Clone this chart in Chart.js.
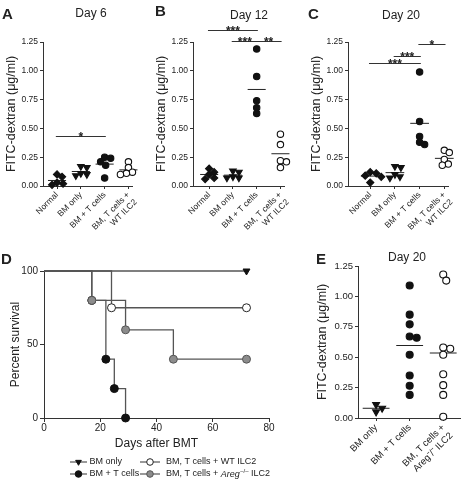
<!DOCTYPE html>
<html>
<head>
<meta charset="utf-8">
<script src="https://cdn.jsdelivr.net/npm/chart.js@4.4.0/dist/chart.umd.min.js"></script>
<style>
  body { margin: 0; background: #fff; }
  #fig { position: relative; width: 472px; height: 480px; overflow: hidden;
         font-family: "Liberation Sans", Arial, Helvetica, sans-serif; color: #222; }
  #fig canvas { position: absolute; }
  .lbl { position: absolute; font-weight: bold; font-size: 15px; line-height: 15px; }
  .ttl { position: absolute; font-size: 12px; line-height: 12px; white-space: nowrap; transform: translateX(-50%); }
</style>
</head>
<body>
<div id="fig">
  <canvas id="cA" width="150" height="240" style="left:0;top:0"></canvas>
  <canvas id="cB" width="155" height="240" style="left:150px;top:0"></canvas>
  <canvas id="cC" width="167" height="240" style="left:305px;top:0"></canvas>
  <canvas id="cD" width="315" height="240" style="left:0;top:240px"></canvas>
  <canvas id="cE" width="157" height="240" style="left:315px;top:240px"></canvas>

  <div class="lbl" style="left:2px;top:6px">A</div>
  <div class="lbl" style="left:155px;top:3px">B</div>
  <div class="lbl" style="left:308px;top:6px">C</div>
  <div class="lbl" style="left:1px;top:251px">D</div>
  <div class="lbl" style="left:316px;top:251px">E</div>

  <div class="ttl" style="left:91px;top:7px">Day 6</div>
  <div class="ttl" style="left:249px;top:9px">Day 12</div>
  <div class="ttl" style="left:401px;top:9px">Day 20</div>
  <div class="ttl" style="left:407px;top:251px">Day 20</div>
</div>

<script>
// ---- data ----
const groupLabels = [['Normal'], ['BM only'], ['BM + T cells'], ['BM, T cells +', 'WT ILC2']];
const groupLabelsE = [['BM only'], ['BM + T cells'], ['BM, T cells +', 'Areg⁻/⁻ ILC2']];

const day6 = [
  [0.10, 0.08, 0.03, 0.02, 0.01],
  [0.17, 0.16, 0.11, 0.10, 0.09],
  [0.25, 0.24, 0.21, 0.18, 0.07],
  [0.21, 0.16, 0.12, 0.11, 0.10]
];
const day12 = [
  [0.15, 0.12, 0.10, 0.07, 0.06],
  [0.13, 0.12, 0.08, 0.07, 0.07],
  [1.19, 0.95, 0.74, 0.68, 0.63],
  [0.45, 0.36, 0.22, 0.21, 0.16]
];
const day20 = [
  [0.12, 0.11, 0.09, 0.08, 0.03],
  [0.17, 0.16, 0.10, 0.08, 0.07],
  [0.99, 0.56, 0.43, 0.38, 0.36],
  [0.31, 0.29, 0.23, 0.19, 0.18]
];
const day20E = [
  [0.11, 0.05, 0.08],
  [1.09, 0.85, 0.77, 0.67, 0.66, 0.52, 0.35, 0.265, 0.19],
  [1.18, 1.13, 0.58, 0.57, 0.52, 0.36, 0.27, 0.19, 0.01]
];

// significance bars: [from group, to group, height, label]
const sig6 = [[0, 2, 0.43, '*']];
const sig12 = [[0, 2, 1.35, '***'], [1, 2, 1.26, '***'], [2, 3, 1.26, '**']];
const sig20 = [[0, 2, 1.07, '***'], [1, 2, 1.13, '***'], [2, 3, 1.23, '*']];

const fitcTicks = [0, 0.25, 0.5, 0.75, 1.0, 1.25];

// survival (Kaplan-Meier)
const survNames = ['BM only', 'BM + T cells', 'BM, T cells + WT ILC2', 'BM, T cells + Areg−/− ILC2'];
const survDays = [[0, 72], [0, 17, 22, 25, 29], [0, 24, 72], [0, 17, 29, 46, 72]];
const survPct = [[100, 100], [100, 80, 40, 20, 0], [100, 75, 75], [100, 80, 60, 40, 40]];

// ---- styling ----
const FONT = '"Liberation Sans", Arial, Helvetica, sans-serif';
Chart.defaults.font.family = FONT;
Chart.defaults.color = '#222';
const AXIS = '#333';

function mean(a) { return a.reduce((s, v) => s + v, 0) / a.length; }

// simple beeswarm: push points sideways until they don't overlap too much
function swarm(vals, pxX, pxY, gap) {
  const placed = [];
  return vals.map(v => {
    const py = v * pxY;
    let best = 0;
    for (let k = 0; k < 60; k++) {
      const dx = (k % 2 ? 1 : -1) * Math.ceil(k / 2);
      if (placed.every(p => Math.hypot(p[0] - dx, p[1] - py) >= gap)) { best = dx; break; }
    }
    placed.push([best, py]);
    return best / pxX;
  });
}

const sigPlugin = {
  id: 'sig',
  afterDatasetsDraw(chart, args, opts) {
    const { ctx, scales: { x, y } } = chart;
    (opts.bars || []).forEach(([a, b, v, txt]) => {
      const x1 = x.getPixelForValue(a - 0.05);
      const x2 = x.getPixelForValue(b + 0.05);
      const py = Math.round(y.getPixelForValue(v)) + 0.5;
      ctx.save();
      ctx.strokeStyle = AXIS;
      ctx.lineWidth = 1;
      ctx.beginPath();
      ctx.moveTo(x1, py);
      ctx.lineTo(x2, py);
      ctx.stroke();
      ctx.fillStyle = '#222';
      ctx.font = 'bold 12px ' + FONT;
      ctx.textAlign = 'center';
      ctx.textBaseline = 'alphabetic';
      ctx.fillText(txt, (x1 + x2) / 2, py + 4);
      ctx.restore();
    });
  }
};

function dotChart(id, labels, groups, sig, lay) {
  const datasets = [];
  groups.forEach((vals, i) => {
    const offs = swarm(vals, lay.pxX, lay.pxY, lay.gap);
    datasets.push({
      data: vals.map((v, k) => ({ x: i + offs[k], y: v })),
      pointStyle: lay.shapes[i],
      rotation: lay.rot[i],
      pointRadius: lay.radius[i],
      pointBackgroundColor: lay.fills[i],
      pointBorderColor: '#111',
      pointBorderWidth: 1.1,
      clip: false
    });
    const m = mean(vals);
    datasets.push({
      data: [{ x: i - lay.half, y: m }, { x: i + lay.half, y: m }],
      showLine: true,
      borderColor: '#222',
      borderWidth: 1,
      pointRadius: 0,
      clip: false
    });
  });

  return new Chart(document.getElementById(id), {
    type: 'scatter',
    data: { datasets },
    plugins: [sigPlugin],
    options: {
      responsive: false,
      animation: false,
      events: [],
      layout: { padding: lay.pad },
      plugins: { legend: { display: false }, tooltip: { enabled: false }, sig: { bars: sig } },
      scales: {
        x: {
          type: 'linear',
          min: lay.xMin,
          max: lay.xMax,
          afterBuildTicks: s => { s.ticks = labels.map((_, i) => ({ value: i })); },
          afterFit: s => { s.height = lay.xH; },
          ticks: {
            autoSkip: false,
            minRotation: 45,
            maxRotation: 45,
            padding: 1,
            font: { size: lay.tickSize },
            callback: v => labels[v]
          },
          grid: { drawOnChartArea: false, tickLength: 3, color: AXIS },
          border: { color: AXIS }
        },
        y: {
          min: 0,
          max: 1.25,
          afterBuildTicks: s => { s.ticks = fitcTicks.map(v => ({ value: v })); },
          afterFit: s => { s.width = lay.yW; },
          ticks: { padding: 2, font: { size: lay.tickSize }, callback: v => v.toFixed(2) },
          grid: { drawOnChartArea: false, tickLength: 3, color: AXIS },
          border: { color: AXIS },
          title: { display: true, text: 'FITC-dextran (μg/ml)', font: { size: 12.5 }, padding: 0 }
        }
      }
    }
  });
}

const abcStyle = {
  shapes: ['rectRot', 'triangle', 'circle', 'circle'],
  rot: [0, 180, 0, 0],
  radius: [3.6, 3.8, 3.2, 3.2],
  fills: ['#111', '#111', '#111', '#fff'],
  half: 0.38, pxY: 115.2, gap: 5.5, tickSize: 8.5, yW: 39, xH: 54
};

dotChart('cA', groupLabels, day6, sig6, Object.assign({}, abcStyle, {
  pad: { left: 4, top: 42, right: 18, bottom: 0 }, xMin: -0.59, xMax: 3.15, pxX: 23.8
}));
dotChart('cB', groupLabels, day12, sig12, Object.assign({}, abcStyle, {
  pad: { left: 4, top: 42, right: 21, bottom: 0 }, xMin: -0.68, xMax: 3.15, pxX: 23.8
}));
dotChart('cC', groupLabels, day20, sig20, Object.assign({}, abcStyle, {
  pad: { left: 4, top: 42, right: 24, bottom: 0 }, xMin: -0.9, xMax: 3.15, pxX: 24.7
}));
dotChart('cE', groupLabelsE, day20E, [], {
  shapes: ['triangle', 'circle', 'circle'],
  rot: [180, 0, 0],
  radius: [4, 3.5, 3.5],
  fills: ['#111', '#111', '#fff'],
  half: 0.4, pxY: 121.6, pxX: 33.5, gap: 6.5, tickSize: 9.5, yW: 43, xH: 62,
  pad: { left: 0, top: 26, right: 12, bottom: 0 }, xMin: -0.54, xMax: 2.5
});

// ---- survival panel ----
const kmShape = ['triangle', 'circle', 'circle', 'circle'];
const kmRot = [180, 0, 0, 0];
const kmFill = ['#111', '#111', '#fff', '#8c8c8c'];
const kmEdge = ['#111', '#111', '#222', '#555'];

function drawRich(ctx, text, x, y) {
  const m = text.match(/^(.*)Areg−\/−(.*)$/);
  ctx.font = '9px ' + FONT;
  if (!m) { ctx.fillText(text, x, y); return; }
  ctx.fillText(m[1], x, y);
  x += ctx.measureText(m[1]).width;
  ctx.font = 'italic 9px ' + FONT;
  ctx.fillText('Areg', x, y);
  x += ctx.measureText('Areg').width + 0.5;
  ctx.font = '6px ' + FONT;
  ctx.fillText('–/–', x, y - 3);
  x += ctx.measureText('–/–').width;
  ctx.font = '9px ' + FONT;
  ctx.fillText(m[2], x, y);
}

const kmLegend = {
  id: 'kmLegend',
  afterDraw(chart) {
    const ctx = chart.ctx;
    const cols = [{ x0: 70, x1: 87, tx: 89.5 }, { x0: 140, x1: 160, tx: 166 }];
    const rows = [222, 234];
    chart.data.datasets.forEach((ds, i) => {
      const c = cols[i >> 1];
      const y = rows[i & 1];
      ctx.save();
      ctx.strokeStyle = '#555';
      ctx.lineWidth = 1.2;
      ctx.beginPath();
      ctx.moveTo(c.x0, y);
      ctx.lineTo(c.x1, y);
      ctx.stroke();
      ctx.fillStyle = kmFill[i];
      ctx.strokeStyle = kmEdge[i];
      ctx.lineWidth = 1;
      Chart.helpers.drawPoint(ctx, { pointStyle: kmShape[i], rotation: kmRot[i], radius: 3.3, borderWidth: 1 }, (c.x0 + c.x1) / 2, y);
      ctx.fillStyle = '#222';
      ctx.textAlign = 'left';
      ctx.textBaseline = 'middle';
      drawRich(ctx, ds.label, c.tx, y);
      ctx.restore();
    });
  }
};

new Chart(document.getElementById('cD'), {
  type: 'scatter',
  data: {
    datasets: survNames.map((name, i) => ({
      label: name,
      data: survDays[i].map((d, k) => ({ x: d, y: survPct[i][k] })),
      showLine: true,
      stepped: true,
      borderColor: '#555',
      borderWidth: 1.3,
      pointStyle: kmShape[i],
      rotation: kmRot[i],
      pointRadius: survDays[i].map((_, k) => (k === 0 ? 0 : 4)),
      pointBackgroundColor: kmFill[i],
      pointBorderColor: kmEdge[i],
      pointBorderWidth: 1,
      order: 3 - i,
      clip: false
    }))
  },
  plugins: [kmLegend],
  options: {
    responsive: false,
    animation: false,
    events: [],
    layout: { padding: { left: 8, top: 31, right: 46, bottom: 29 } },
    plugins: { legend: { display: false }, tooltip: { enabled: false } },
    scales: {
      x: {
        min: 0, max: 80,
        afterFit: s => { s.height = 33; },
        ticks: { stepSize: 20, padding: 0, font: { size: 10 } },
        grid: { drawOnChartArea: false, tickLength: 4, color: AXIS },
        border: { color: AXIS },
        title: { display: true, text: 'Days after BMT', font: { size: 12 }, padding: 0 }
      },
      y: {
        min: 0, max: 100,
        afterFit: s => { s.width = 36; },
        ticks: { stepSize: 50, padding: 2, font: { size: 10 } },
        grid: { drawOnChartArea: false, tickLength: 4, color: AXIS },
        border: { color: AXIS },
        title: { display: true, text: 'Percent survival', font: { size: 12 }, padding: 0 }
      }
    }
  }
});
</script>
</body>
</html>
